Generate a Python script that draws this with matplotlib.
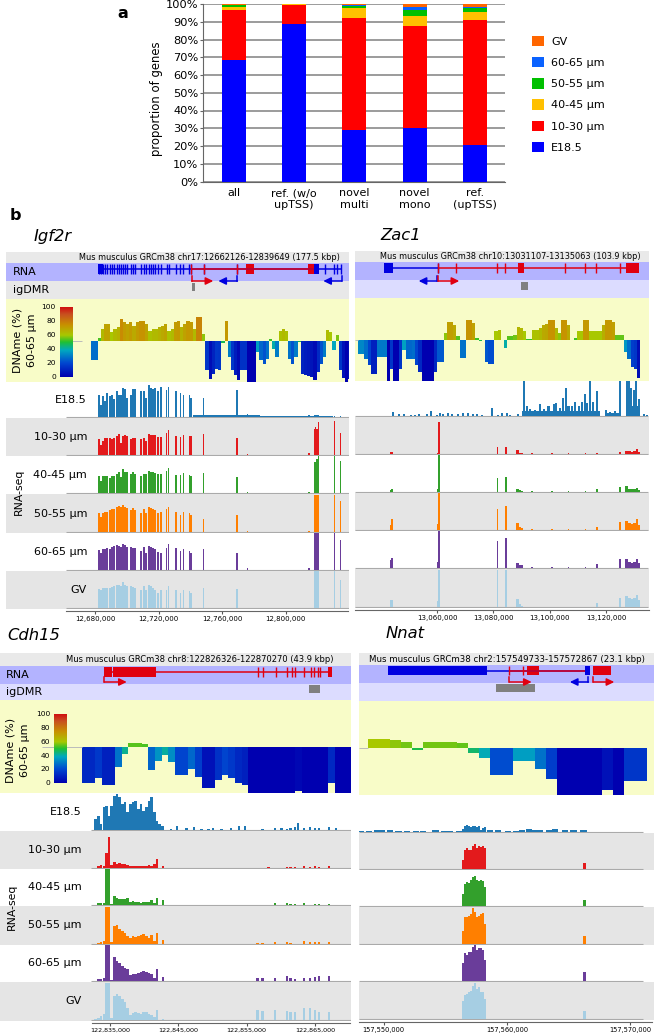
import numpy as np
from matplotlib import pyplot as plt
from matplotlib.colors import LinearSegmentedColormap
from matplotlib.ticker import FuncFormatter

W, H = 656, 1035

# panel a
groups = ["all", "ref. (w/o\nupTSS)", "novel\nmulti", "novel\nmono", "ref.\n(upTSS)"]
stages = ["E18.5", "10-30 µm", "40-45 µm", "50-55 µm", "60-65 µm", "GV"]
stage_colors = ["#0000ff", "#ff0000", "#ffc000", "#00c000", "#0a62ff", "#ff6600"]
prop_e185 = [68.5, 89.0, 29.0, 30.0, 20.5]
prop_1030 = [28.0, 10.3, 63.2, 57.8, 70.5]
prop_4045 = [1.7, 0.5, 5.3, 5.5, 4.5]
prop_5055 = [1.0, 0.1, 1.5, 3.4, 2.0]
prop_6065 = [0.4, 0.05, 0.7, 1.6, 1.0]
prop_gv = [0.4, 0.05, 0.3, 1.7, 1.5]

# RNA-seq tracks, x is kb from the first labelled tick
igf2r_kb = [2.3, 3.6, 5.2, 6.5, 7.8, 9.4, 10.7, 12.0, 13.6, 14.9, 16.2, 17.6, 18.9, 20.2, 22.5, 23.7, 25.0,
            29.2, 31.1, 32.1, 34.0, 35.3, 36.5, 37.6, 39.5, 41.8, 45.1, 46.4, 51.0, 53.8, 55.6, 59.4, 60.5,
            68.5, 89.4, 96.0, 134.8, 138.2, 139.0, 139.8, 140.7, 150.8, 154.8]
igf2r_w = [1.3] * 17 + [1.1] * 9 + [0.9] * 17
igf2r_e185 = [22, 12, 21, 16, 24, 21, 22, 18, 26, 22, 22, 29, 28, 19, 22, 28, 28, 26, 26, 19, 32, 29, 28, 29, 26, 30,
              27, 30, 26, 24, 22, 22, 19, 19, 27, 3, 2, 2, 2, 2, 2, 1, 1]
igf2r_1030 = [16, 10, 14, 17, 17, 17, 16, 17, 19, 21, 12, 19, 20, 19, 16, 17, 17, 16, 17, 14, 21, 20, 20, 20, 18, 18,
              22, 25, 19, 18, 20, 19, 19, 21, 17, 1, 2, 26, 28, 26, 33, 34, 22]
igf2r_4045 = [17, 12, 17, 17, 17, 15, 17, 17, 19, 21, 16, 24, 21, 21, 19, 21, 19, 17, 19, 19, 22, 21, 21, 20, 19, 19,
              22, 25, 18, 18, 20, 18, 17, 20, 16, 1, 1, 31, 31, 34, 37, 37, 32]
igf2r_5055 = [19, 15, 19, 20, 20, 22, 23, 23, 25, 26, 25, 27, 25, 24, 22, 24, 22, 19, 23, 19, 25, 24, 23, 22, 19, 20,
              23, 25, 20, 17, 20, 19, 17, 13, 17, 1, 1, 37, 37, 37, 37, 37, 31]
igf2r_6065 = [20, 17, 21, 21, 22, 21, 23, 24, 25, 24, 23, 26, 25, 23, 23, 22, 22, 19, 23, 17, 24, 23, 22, 21, 18, 17,
              22, 26, 22, 19, 21, 19, 17, 21, 17, 2, 2, 37, 37, 37, 37, 37, 30]
igf2r_gv = [19, 18, 20, 20, 20, 20, 21, 22, 23, 23, 22, 26, 23, 22, 22, 21, 20, 18, 22, 18, 23, 22, 20, 18, 15, 18,
            18, 22, 18, 15, 18, 17, 15, 20, 19, 0, 0, 37, 37, 37, 37, 37, 28]
igf2r_low_kb = [83.0, 127.0]
igf2r_low_w = [42.0, 46.0]
igf2r_low_h = [2, 1]

zac1_kb = [-16.4, -15.9, 0.4, 0.7, 21.4, 24.5, 28.6, 29.3, 30.2, 33.7, 40.8, 46.7, 52.7, 56.8, 64.9,
           67.3, 68.3, 69.2, 70.2, 71.0, 71.6]
zac1_w = [0.9, 0.9, 0.6, 0.5, 0.4, 0.5, 0.9, 0.9, 0.9, 0.5, 0.5, 0.5, 0.5, 0.5, 0.5, 1.0, 1.0, 1.0, 1.0, 1.0, 0.8]
zac1_1030 = [2, 2, 1, 32, 7, 7, 4, 1, 1, 1, 1, 1, 1, 1, 2, 3, 3, 2, 3, 5, 2]
zac1_4045 = [2, 3, 3, 37, 14, 15, 3, 2, 1, 1, 1, 1, 1, 3, 5, 6, 3, 3, 3, 4, 2]
zac1_5055 = [5, 11, 6, 37, 21, 24, 7, 3, 2, 1, 1, 1, 1, 3, 8, 9, 7, 6, 7, 11, 5]
zac1_6065 = [8, 10, 6, 37, 27, 30, 5, 3, 3, 1, 1, 1, 1, 4, 9, 9, 6, 5, 6, 9, 5]
zac1_gv = [7, 7, 6, 37, 37, 37, 8, 3, 1, 0, 0, 0, 0, 4, 9, 11, 9, 8, 9, 12, 7]
zac1_e185_kb = [-15.7, -13.6, -11.6, -9.1, -7.7, -6.5, -3.6, -2.0, 0.0, 1.2, 2.0, 3.9, 5.3, 7.5, 9.2, 10.9, 12.7,
                14.2, 16.0, 19.5, 21.5, 23.1, 24.7, 26.0, 28.6, 30.9, 31.8, 33.1, 34.9, 36.7, 37.9, 39.6, 41.4,
                42.2, 43.8, 44.7, 45.8, 46.7, 47.9, 48.9, 50.3, 51.5, 52.5, 53.3, 54.3, 55.3, 56.8, 57.6, 60.0,
                61.5, 63.1, 64.9, 67.3, 68.0, 69.0, 69.8, 70.8, 71.6, 73.4, 74.6]
zac1_e185 = [4, 2, 2, 1, 1, 2, 2, 5, 1, 3, 2, 3, 2, 2, 3, 3, 2, 2, 1, 8, 1, 3, 3, 1, 2, 35, 10, 7, 6, 12, 7, 10, 12,
             13, 8, 18, 28, 10, 10, 14, 10, 14, 22, 13, 35, 14, 25, 5, 6, 4, 5, 35, 35, 35, 28, 26, 35, 17, 2, 1]
zac1_low_kb = [44.1, 62.5, 69.4]
zac1_low_w = [27.8, 5.0, 4.8]
zac1_low_h = [5, 3, 10]

cdh15_kb = [-2.1, -1.7, -1.3, -0.9, -0.5, -0.15, 0.25, 0.63, 1.02, 1.41, 1.8, 2.2, 2.59, 2.98, 3.37, 3.76, 4.15, 4.54,
            4.93, 5.32, 5.71, 6.1, 6.49, 6.88, 7.27, 7.66]
cdh15_e185 = [11, 14, 6, 23, 24, 14, 24, 34, 36, 33, 26, 28, 18, 26, 28, 29, 21, 26, 19, 23, 29, 33, 18, 9, 6, 4]
cdh15_1030 = [0, 2, 3, 2, 15, 31, 3, 6, 4, 5, 4, 4, 3, 2, 2, 2, 2, 2, 2, 2, 3, 2, 4, 9, 0, 0]
cdh15_4045 = [0, 2, 2, 2, 37, 37, 1, 9, 7, 6, 6, 6, 7, 3, 4, 3, 3, 2, 3, 3, 3, 5, 2, 7, 0, 0]
cdh15_5055 = [0, 1, 2, 3, 37, 37, 2, 18, 19, 15, 13, 11, 8, 6, 8, 7, 8, 9, 10, 8, 6, 9, 3, 11, 0, 0]
cdh15_6065 = [0, 2, 2, 3, 37, 37, 1, 24, 20, 18, 15, 13, 12, 6, 7, 7, 8, 9, 10, 9, 8, 7, 3, 12, 0, 0]
cdh15_gv = [1, 2, 4, 6, 37, 37, 2, 24, 26, 24, 21, 18, 12, 5, 7, 8, 7, 6, 8, 8, 6, 5, 3, 10, 0, 0]
cdh15_tail_kb = [7.8, 8.9, 9.85, 11.2, 12.3, 13.4, 14.4, 15.1, 16.3, 17.7, 18.9, 19.8, 21.6, 22.3, 23.2, 24.2, 25.1,
                 25.9, 26.4, 27.1, 27.5, 28.4, 29.3, 30.0, 30.6, 32.1, 33.1]
cdh15_tail_e185 = [3, 1, 4, 2, 3, 1, 1, 2, 1, 2, 4, 4, 0, 1, 0, 2, 2, 1, 2, 3, 7, 2, 3, 2, 2, 3, 2]
cdh15_tail_1030 = [2, 0, 0, 0, 0, 0, 0, 0, 0, 0, 0, 0, 0, 0, 1, 0, 0, 1, 1, 1, 0, 2, 1, 2, 1, 2, 0]
cdh15_tail_4045 = [5, 0, 0, 0, 0, 0, 0, 0, 0, 0, 0, 0, 0, 0, 0, 2, 0, 2, 1, 1, 0, 2, 0, 1, 1, 1, 0]
cdh15_tail_5055 = [4, 0, 0, 0, 0, 0, 0, 0, 0, 0, 0, 0, 1, 1, 0, 2, 0, 2, 1, 0, 0, 3, 2, 2, 2, 2, 0]
cdh15_tail_6065 = [4, 0, 0, 0, 0, 0, 0, 0, 0, 0, 0, 0, 3, 3, 0, 3, 0, 5, 3, 2, 0, 3, 3, 4, 5, 5, 0]
cdh15_tail_gv = [1, 0, 0, 0, 0, 0, 0, 0, 0, 0, 0, 0, 10, 9, 0, 10, 0, 9, 8, 8, 0, 12, 12, 10, 8, 8, 0]

nnat_kb = [6.46, 6.62, 6.78, 6.95, 7.11, 7.27, 7.43, 7.59, 7.76, 7.92, 8.08, 8.24, 16.27]
nnat_1030 = [9, 19, 21, 19, 19, 23, 25, 21, 23, 22, 23, 21, 6]
nnat_4045 = [12, 22, 24, 23, 26, 29, 30, 26, 25, 26, 25, 19, 6]
nnat_5055 = [13, 27, 27, 28, 30, 36, 32, 27, 28, 30, 31, 20, 8]
nnat_6065 = [18, 28, 26, 29, 29, 34, 37, 31, 33, 33, 31, 21, 9]
nnat_gv = [18, 24, 25, 27, 28, 33, 36, 30, 32, 27, 27, 20, 8]
nnat_e185 = [3, 6, 7, 6, 5, 6, 6, 5, 6, 2, 4, 5, 1]
nnat_low_kb = [-1.84, -1.2, -0.5, -0.13, 0.54, 1.2, 1.9, 2.6, 3.2, 4.2, 4.9, 5.4, 6.1, 8.65, 9.3, 10.1, 10.7, 11.2,
               11.8, 12.3, 12.7, 13.4, 13.9, 14.7, 15.4, 16.2]
nnat_low_h = [1, 1, 2, 2, 2, 1, 1, 1, 1, 2, 1, 1, 1, 2, 2, 1, 1, 2, 3, 2, 2, 2, 3, 2, 2, 2]

# DNA methylation per window (%)
igf2r_meth = [50, 50, 50, 27, 27, 53, 64, 70, 70, 60, 64, 66, 76, 72, 70, 72, 68, 72, 74, 74, 70, 62, 64, 64, 66, 68,
              70, 62, 64, 72, 73, 66, 70, 73, 72, 64, 78, 78, 58, 15, 4, 10, 16, 15, 47, 73, 30, 15, 8, 3, 14, 14,
              0, 0, 0, 36, 26, 22, 28, 52, 40, 30, 62, 64, 62, 28, 22, 30, 48, 10, 8, 7, 6, 3, 12, 22, 30, 63, 60,
              38, 57, 15, 5, 0, 4]
zac1_meth = [32, 32, 27, 19, 9, 9, 29, 29, 29, 0, 15, 0, 0, 15, 37, 26, 26, 27, 19, 11, 0, 0, 0, 0, 11, 23, 23, 58,
             71, 71, 68, 54, 28, 28, 74, 74, 70, 52, 48, 49, 23, 21, 21, 60, 62, 49, 40, 54, 54, 56, 65, 64, 60, 51,
             51, 62, 62, 64, 68, 69, 74, 74, 64, 58, 74, 74, 68, 50, 52, 60, 60, 73, 73, 60, 60, 60, 60, 67, 73, 73,
             71, 55, 55, 55, 35, 27, 17, 15, 4]
cdh15_meth = [11, 11, 16, 9, 9, 28, 42, 54, 54, 53, 25, 34, 41, 33, 19, 19, 26, 17, 5, 5, 14, 19, 16, 11, 9, 0, 0, 0,
              0, 0, 0, 0, 2, 0, 0, 0, 0, 11, 0, 0, 0]
nnat_meth = [60, 60, 58, 56, 48, 56, 56, 56, 55, 45, 39, 21, 21, 36, 36, 28, 17, 0, 0, 0, 0, 5, 0, 15, 15]

meth_stops = [(0.0, "#0000b0"), (0.2, "#0048d0"), (0.38, "#00a8c0"), (0.5, "#20c030"), (0.6, "#a8c800"),
              (0.75, "#c89000"), (0.9, "#c85020"), (1.0, "#d01010")]
meth_cmap = LinearSegmentedColormap.from_list("meth", meth_stops)

track_names = ["E18.5", "10-30 µm", "40-45 µm", "50-55 µm", "60-65 µm", "GV"]
track_colors = ["#1f78b4", "#e31a1c", "#33a02c", "#ff7f00", "#6a3d9a", "#a6cee3"]
BLUE = "#0000e0"
RED = "#e00010"

fig = plt.figure(figsize=(W / 100, H / 100), dpi=100)


def px_axes(left, top, right, bottom, **kw):
    return fig.add_axes([left / W, 1 - bottom / H, (right - left) / W, (bottom - top) / H], **kw)


def clean(ax):
    ax.set_xticks([])
    ax.set_yticks([])
    for s in ax.spines.values():
        s.set_visible(False)


# ----- panel a
ax = px_axes(203, 4, 505, 181.5)
x = np.arange(len(groups))
bottom = np.zeros(len(groups))
handles = []
for vals, col, lab in zip([prop_e185, prop_1030, prop_4045, prop_5055, prop_6065, prop_gv], stage_colors, stages):
    b = ax.bar(x, vals, 0.4, bottom=bottom, color=col, label=lab, zorder=3)
    handles.append(b)
    bottom += np.array(vals)
ax.set_xlim(-0.515, 4.5)
ax.set_ylim(0, 100)
ax.set_yticks(np.arange(0, 101, 10))
ax.set_yticklabels(["%d%%" % v for v in range(0, 101, 10)], fontsize=8.2)
ax.set_xticks(x)
ax.set_xticklabels(groups, fontsize=8, linespacing=1.2)
ax.tick_params(axis="x", length=0, pad=5)
ax.tick_params(axis="y", length=2, pad=1.5, color="#666666")
ax.grid(axis="y", color="#808080", lw=1.1, zorder=0)
ax.set_axisbelow(True)
for s in ["top", "right"]:
    ax.spines[s].set_visible(False)
for s in ["left", "bottom"]:
    ax.spines[s].set_color("#666666")
ax.set_ylabel("proportion of genes", fontsize=8.4, labelpad=2, y=0.465)
fig.legend(handles[::-1], stages[::-1], loc="upper left", bbox_to_anchor=(532 / W, 1 - 35.5 / H), frameon=False,
           fontsize=8, handlelength=1.08, handleheight=1.08, handletextpad=0.62, labelspacing=0.92, borderpad=0,
           borderaxespad=0)
fig.text(123 / W, 1 - 14 / H, "a", fontsize=11.5, fontweight="bold", ha="center", va="center")
fig.text(15 / W, 1 - 215 / H, "b", fontsize=11.5, fontweight="bold", ha="center", va="center")


# ----- panel b
def draw_gene(name, title, header, rows, band, bands_y, origin, px_tick, scale, tick_kb, axis_x, dmr_color,
              meth, meth_start, meth_step, tracks, dmr, dmr_y, model, arrows, arrow_y, label_x, side, cbar=None):
    left, right = band
    xmin = origin + (left - px_tick) / scale * 1000
    xmax = origin + (right - px_tick) / scale * 1000
    hdr_t, rna_t, dmr_t, meth_t = bands_y

    fig.text(title[0] / W, 1 - title[1] / H, name, fontsize=title[2], style="italic", va="center")

    # header, RNA and igDMR bands; y is in image pixels here
    g = px_axes(left, hdr_t, right, meth_t)
    g.set_xlim(xmin, xmax)
    g.set_ylim(meth_t, hdr_t)
    g.axhspan(hdr_t, rna_t, color="#e9e9e9", lw=0)
    g.axhspan(rna_t, dmr_t, color="#b3b3ff", lw=0)
    g.axhspan(dmr_t, meth_t, color=dmr_color, lw=0)
    clean(g)
    g.text(header[1] / W, 1 - (hdr_t + rna_t) / 2 / H, header[0], transform=fig.transFigure, fontsize=header[2],
           ha="center", va="center")
    mid = rna_t + 5.7
    for col, line_from, line_to, blocks, ticks in model:
        g.hlines(mid, origin + line_from * 1000, origin + line_to * 1000, color=col, lw=1.1)
        for a, b in blocks:
            g.bar(origin + (a + b) * 500, 9.5, (b - a) * 1000, bottom=rna_t + 1, color=col, lw=0)
        g.vlines([origin + k * 1000 for k in ticks], rna_t + 1, rna_t + 10.5, color=col, lw=1.0)
    for col, a, b in arrows:
        xa, xb = origin + a * 1000, origin + b * 1000
        g.plot([xa, xa], [arrow_y - 5, arrow_y], color=col, lw=1.1)
        g.annotate("", xy=(xb, arrow_y), xytext=(xa, arrow_y),
                   arrowprops=dict(arrowstyle="-|>,head_width=0.22,head_length=0.45", color=col, lw=1.1,
                                   shrinkA=0, shrinkB=0))
    g.bar(origin + (dmr[0] + dmr[1]) * 500, dmr_y[1] - dmr_y[0], (dmr[1] - dmr[0]) * 1000, bottom=dmr_y[0],
          color="#808080", lw=0)
    if side == "left":
        fig.text(label_x[0] / W, 1 - (rna_t + dmr_t) / 2 / H, "RNA", fontsize=8, va="center")
        fig.text(label_x[0] / W, 1 - (dmr_t + meth_t) / 2 / H, "igDMR", fontsize=8, va="center")

    # methylation windows around 50%
    m = px_axes(left, meth_t, right, rows[0])
    m.set_facecolor("#f8fcc8")
    m.set_xlim(xmin, xmax)
    m.set_ylim(0, 100)
    clean(m)
    mx = meth_start + meth_step * np.arange(len(meth))
    mv = np.array(meth, dtype=float)
    m.bar(mx, mv - 50, meth_step, bottom=50, align="edge", color=meth_cmap(mv / 100), lw=0)
    m.hlines(50, mx[0] - 6 * meth_step if side == "left" else xmin, mx[0], color="#bbbbbb", lw=0.7)

    if cbar is not None:
        c = px_axes(cbar[0], cbar[1], cbar[2], cbar[3])
        c.imshow(np.linspace(100, 0, 128).reshape(-1, 1), cmap=meth_cmap, vmin=0, vmax=100, aspect="auto",
                 extent=[0, 1, 0, 100])
        c.set_xticks([])
        c.set_yticks([0, 20, 40, 60, 80, 100])
        c.tick_params(axis="y", length=0, labelsize=5.4, pad=3)
        for s in c.spines.values():
            s.set_visible(False)
        for tx, line in zip(cbar[4], ["DNAme (%)", "60-65 µm"]):
            fig.text(tx / W, 1 - cbar[5] / H, line, rotation=90, fontsize=8, ha="center", va="center")

    # coverage tracks
    for i, (xs, hs, ws) in enumerate(tracks):
        t = px_axes(left, rows[i], right, rows[i + 1])
        t.set_facecolor("#e5e5e5" if i % 2 == 1 else "white")
        t.set_xlim(xmin, xmax)
        t.set_ylim(-1, rows[i + 1] - rows[i] - 1)
        clean(t)
        for xk, h, w in zip(xs, hs, ws):
            t.bar(origin + np.array(xk) * 1000, h, np.array(w) * 1000, color=track_colors[i], lw=0, zorder=3)
        t.hlines(0, axis_x[2], axis_x[3], color="#aaaaaa", lw=0.8, zorder=2)
        if side == "left":
            fig.text(label_x[1] / W, 1 - (rows[i] + rows[i + 1]) / 2 / H, track_names[i], fontsize=8, ha="right",
                     va="center")
    t.set_xticks([origin + k * 1000 for k in tick_kb])
    t.xaxis.set_major_formatter(FuncFormatter(lambda v, p: format(int(round(v)), ",")))
    t.tick_params(axis="x", labelsize=axis_x[4], length=2, pad=2, color="#555555")
    t.spines["bottom"].set_visible(True)
    t.spines["bottom"].set_position(("outward", 1.2))
    t.spines["bottom"].set_color("#666666")
    t.spines["bottom"].set_bounds(origin + (axis_x[0] - px_tick) / scale * 1000,
                                  origin + (axis_x[1] - px_tick) / scale * 1000)
    if side == "left":
        fig.text(label_x[2] / W, 1 - label_x[3] / H, "RNA-seq", rotation=90, fontsize=7.8, ha="center", va="center")


# Igf2r
draw_gene("Igf2r", (34, 237, 11.8), ("Mus musculus GRCm38 chr17:12662126-12839649 (177.5 kbp)", 209, 5.9),
          [382, 418, 456, 494, 533, 571, 609], (6, 349), (252, 263, 281, 299), 12680000, 95, 1.5875, [0, 40, 80, 120],
          (66, 348, 12680000 - 18000, 12680000 + 160000, 5), "#e8e8e8", igf2r_meth, 12671600, 2000,
          [([igf2r_kb, igf2r_low_kb], [igf2r_e185, igf2r_low_h], [igf2r_w, igf2r_low_w]),
           ([igf2r_kb], [igf2r_1030], [igf2r_w]), ([igf2r_kb], [igf2r_4045], [igf2r_w]),
           ([igf2r_kb], [igf2r_5055], [igf2r_w]), ([igf2r_kb], [igf2r_6065], [igf2r_w]),
           ([igf2r_kb], [igf2r_gv], [igf2r_w])],
          (61.0, 62.8), (283, 291),
          [(BLUE, 2.3, 155.0, [(2.0, 5.0), (134.4, 138.0), (138.0, 141.3)],
            igf2r_kb[:35] + [144.9, 150.8, 152.7, 154.8]),
           (RED, 60.5, 138.0, [(95.1, 100.2), (134.4, 138.0)], [60.5, 68.5, 89.4])],
          [(RED, 60.9, 74.5), (BLUE, 89.7, 77.7), (BLUE, 155.4, 143.8)], 281, (12.7, 87, 19, 491.7), "left",
          cbar=(60, 306.7, 72.7, 376.7, [18, 32], 340))

# Zac1
zw = [0.75] * len(zac1_e185_kb)
draw_gene("Zac1", (380, 235, 11.8), ("Mus musculus GRCm38 chr10:13031107-13135063 (103.9 kbp)", 510, 5.9),
          [381, 417, 455, 493, 531, 569, 608], (355, 649), (251, 262, 280, 298), 13060000, 437, 2.817,
          [0, 20, 40, 60], (355, 649, 13060000 - 29000, 13060000 + 75000, 5), "#dcdcff", zac1_meth, 13032000, 1125,
          [([zac1_e185_kb, zac1_low_kb], [zac1_e185, zac1_low_h], [zw, zac1_low_w]),
           ([zac1_kb], [zac1_1030], [zac1_w]), ([zac1_kb], [zac1_4045], [zac1_w]), ([zac1_kb], [zac1_5055], [zac1_w]),
           ([zac1_kb], [zac1_6065], [zac1_w]), ([zac1_kb], [zac1_gv], [zac1_w])],
          (29.8, 32.3), (282.3, 290),
          [(BLUE, -18.8, 0.4, [(-18.8, -15.6)], [0.36]),
           (RED, 0.4, 71.8, [(28.6, 31.0), (67.2, 71.8)], [0.36, 6.7, 21.3, 24.3, 45.6, 52.4, 56.6, 64.9])],
          [(BLUE, 0.0, -6.5), (RED, 0.36, 7.9)], 281, None, "right")

# Cdh15
cw = [0.39] * len(cdh15_kb)
ct = [0.35] * len(cdh15_tail_kb)
draw_gene("Cdh15", (7, 635, 11.8), ("Mus musculus GRCm38 chr8:122826326-122870270 (43.9 kbp)", 200, 6.0),
          [793, 831, 869, 906, 945, 982, 1021], (0, 351), (653, 666, 684, 700), 122835000, 110, 6.83, [0, 10, 20, 30],
          (91.5, 350, 122835000 - 2800, 122835000 + 35500, 4.6), "#dcdcff", cdh15_meth, 122830850, 976,
          [([cdh15_kb, cdh15_tail_kb], [cdh15_e185, cdh15_tail_e185], [cw, ct]),
           ([cdh15_kb, cdh15_tail_kb], [cdh15_1030, cdh15_tail_1030], [cw, ct]),
           ([cdh15_kb, cdh15_tail_kb], [cdh15_4045, cdh15_tail_4045], [cw, ct]),
           ([cdh15_kb, cdh15_tail_kb], [cdh15_5055, cdh15_tail_5055], [cw, ct]),
           ([cdh15_kb, cdh15_tail_kb], [cdh15_6065, cdh15_tail_6065], [cw, ct]),
           ([cdh15_kb, cdh15_tail_kb], [cdh15_gv, cdh15_tail_gv], [cw, ct])],
          (29.2, 30.8), (685, 693),
          [(RED, -0.8, 32.5, [(-0.83, 0.24), (0.49, 6.68), (31.95, 32.5)],
            [21.6, 22.4, 24.3, 25.9, 26.6, 27.1, 28.4, 29.4, 29.9, 30.4, 30.7])],
          [(RED, -0.83, 2.45)], 682, (6, 82, 11.7, 906.7), "left",
          cbar=(54.3, 714, 67.3, 782.7, [11, 25], 750))

# Nnat
nw = [0.17] * 12 + [0.2]
nl = [0.5] * len(nnat_low_kb)
draw_gene("Nnat", (386, 634, 11.8), ("Mus musculus GRCm38 chr2:157549733-157572867 (23.1 kbp)", 507, 6.2),
          [795, 833, 870, 907, 945, 982, 1020], (359, 654), (653, 665, 683, 701), 157550000, 383.7, 12.33,
          [0, 10, 20], (359, 652, 157550000 - 2000, 157550000 + 21000, 4.8), "#dcdcff", nnat_meth, 157548700, 905,
          [([nnat_kb, nnat_low_kb], [nnat_e185, nnat_low_h], [nw, nl]), ([nnat_kb], [nnat_1030], [nw]),
           ([nnat_kb], [nnat_4045], [nw]), ([nnat_kb], [nnat_5055], [nw]), ([nnat_kb], [nnat_6065], [nw]),
           ([nnat_kb], [nnat_gv], [nw])],
          (9.1, 12.3), (684.3, 692.3),
          [(BLUE, 8.4, 16.3, [(0.35, 8.4), (16.3, 16.7)], []),
           (RED, 10.2, 16.3, [(11.6, 12.6), (16.95, 18.46)], [10.2, 11.3])],
          [(RED, 10.2, 12.0), (BLUE, 16.6, 15.1), (RED, 17.0, 18.7)], 682, None, "right")

plt.savefig("out.png", dpi=100)
